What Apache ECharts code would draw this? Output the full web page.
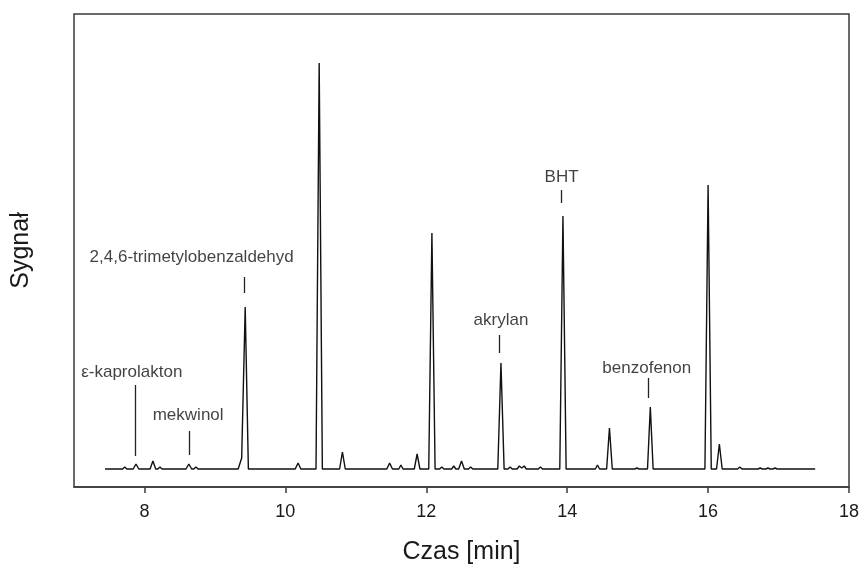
<!DOCTYPE html>
<html>
<head>
<meta charset="utf-8">
<script src="https://cdn.jsdelivr.net/npm/echarts@6/dist/echarts.min.js"></script>
<style>
html,body{margin:0;padding:0;background:#fff;}
#chart{width:864px;height:564px;}
</style>
</head>
<body>
<div id="chart"></div>
<script>
// Retention time [min]
var time = [7.44, 7.69,7.72,7.75, 7.84,7.88,7.92, 8.08,8.12,8.16, 8.19,8.22,8.25, 8.59,8.63,8.67, 8.70,8.73,8.76,
  9.33,9.38,9.40,9.43,9.475, 10.14,10.18,10.22, 10.435,10.48,10.525, 10.77,10.81,10.85, 11.44,11.48,11.52,
  11.61,11.64,11.67, 11.83,11.87,11.91, 12.035,12.08,12.125, 12.19,12.22,12.25, 12.36,12.39,12.42,
  12.46,12.50,12.54, 12.60,12.63,12.66, 13.015,13.06,13.105, 13.16,13.19,13.22, 13.29,13.32,13.355,13.39,13.42,
  13.59,13.62,13.65, 13.895,13.94,13.985, 14.40,14.43,14.46, 14.56,14.60,14.64, 14.96,14.99,15.02,
  15.14,15.18,15.22, 15.955,16.00,16.045, 16.12,16.16,16.20, 16.42,16.45,16.48, 16.71,16.74,16.77,
  16.82,16.85,16.88, 16.92,16.95,16.98, 17.52];
// Detector signal (arbitrary units)
var signal = [0, 0,2,0, 0,5,0, 0,8,0, 0,2,0, 0,5,0, 0,2,0,
  0,11,10,162,0, 0,6,0, 0,406,0, 0,17,0, 0,6,0,
  0,4,0, 0,15,0, 0,236,0, 0,2,0, 0,3,0,
  0,8,0, 0,2,0, 0,106,0, 0,2,0, 0,3,1,3,0,
  0,2,0, 0,253,0, 0,4,0, 0,41,0, 0,1,0,
  0,62,0, 0,284,0, 0,25,0, 0,2,0, 0,1,0,
  0,1,0, 0,1,0, 0];

// x-axis tick labels
var xTicks = [8, 10, 12, 14, 16, 18];

// Peak annotations
var annoNames = ['\u03b5-kaprolakton', 'mekwinol', '2,4,6-trimetylobenzaldehyd', 'akrylan', 'BHT', 'benzofenon'];
var annoTextTime = [7.82, 8.62, 8.67, 13.06, 13.92, 15.13];
var annoTextSignal = [97, 54, 212, 149, 292, 101];
var annoTickTime = [7.87, 8.63, 9.42, 13.04, 13.91, 15.15];
var annoTickLow = [13, 14, 176, 116, 266, 71];
var annoTickHigh = [84, 38, 192, 134, 279, 91];

var lineData = time.map(function (t, i) { return [t, signal[i]]; });
var annoData = annoNames.map(function (n, i) { return { name: n, value: [annoTextTime[i], annoTextSignal[i]] }; });
var tickLines = annoNames.map(function (n, i) {
  return [{ coord: [annoTickTime[i], annoTickLow[i]] }, { coord: [annoTickTime[i], annoTickHigh[i]] }];
});

var FONT = 'Liberation Sans, Arial, sans-serif';
var chart = echarts.init(document.getElementById('chart'));
chart.setOption({
  animation: false,
  backgroundColor: '#fff',
  grid: { left: 74, right: 15, top: 14, bottom: 77, outerBoundsMode: 'none', containLabel: false,
    show: true, borderColor: '#3a3a3a', borderWidth: 1.5, backgroundColor: 'transparent' },
  xAxis: {
    type: 'value', min: 7, max: 18,
    name: 'Czas [min]', nameLocation: 'middle', nameGap: 53,
    nameTextStyle: { fontFamily: FONT, fontSize: 25, color: '#1a1a1a' },
    axisLine: { show: true, onZero: false, lineStyle: { color: '#3a3a3a', width: 1.5 } },
    axisTick: { show: true, inside: false, length: 6, customValues: xTicks, lineStyle: { color: '#3a3a3a', width: 1.5 } },
    axisLabel: { customValues: xTicks, margin: 16, fontFamily: FONT, fontSize: 18, color: '#1a1a1a' },
    splitLine: { show: false }
  },
  yAxis: {
    type: 'value', min: -18, max: 455,
    name: 'Sygna\u0142', nameLocation: 'middle', nameGap: 40, nameRotate: 90,
    nameTextStyle: { fontFamily: FONT, fontSize: 25, color: '#1a1a1a' },
    axisLine: { show: false, onZero: false }, axisTick: { show: false }, axisLabel: { show: false },
    splitLine: { show: false }
  },
  series: [
    {
      type: 'line', data: lineData, symbol: 'none', silent: true,
      lineStyle: { color: '#111', width: 1.4 }
    },
    {
      type: 'scatter', data: annoData, symbolSize: 0, silent: true,
      label: { show: true, position: 'inside', formatter: '{b}', fontFamily: FONT, fontSize: 17, color: '#111' },
      markLine: {
        silent: true, symbol: ['none', 'none'], label: { show: false },
        lineStyle: { color: '#222', width: 1.3, type: 'solid' },
        data: tickLines
      }
    }
  ]
});
</script>
</body>
</html>
